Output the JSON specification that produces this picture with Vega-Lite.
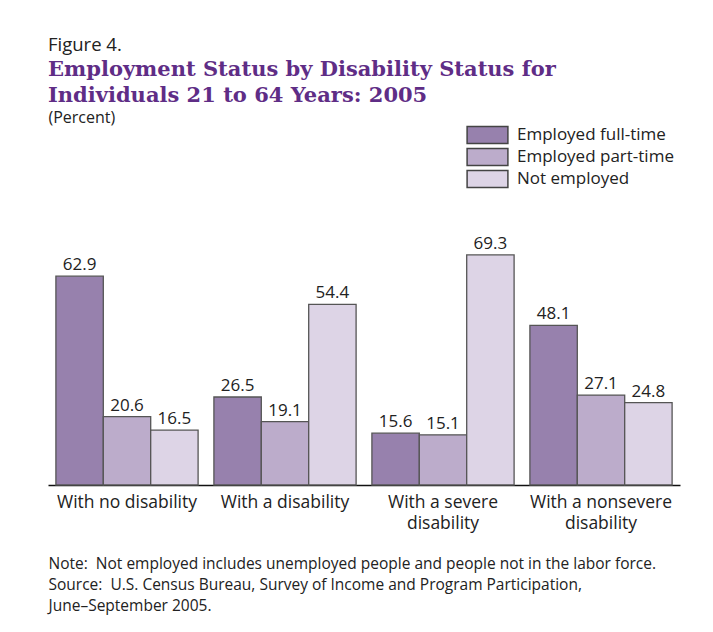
{
  "$schema": "https://vega.github.io/schema/vega-lite/v6.json",
  "width": 632,
  "height": 265.6,
  "autosize": "none",
  "padding": {"left": 48, "top": 219.4, "right": 33, "bottom": 147},
  "background": "white",
  "config": {
    "view": {"stroke": null},
    "font": "Open Sans",
    "text": {"font": "Open Sans"}
  },
  "title": {
    "text": "Figure 4.",
    "subtitle": ["Employment Status by Disability Status for", "Individuals 21 to 64 Years: 2005"],
    "anchor": "start",
    "frame": "group",
    "orient": "top",
    "offset": 3,
    "font": "Open Sans",
    "fontSize": 18.5,
    "fontWeight": "normal",
    "color": "#222222",
    "subtitleFont": "DejaVu Serif",
    "subtitleFontSize": 21,
    "subtitleFontWeight": "bold",
    "subtitleColor": "#5f2d86",
    "subtitleLineHeight": 26,
    "subtitlePadding": 5
  },
  "data": {
    "values": [
      {"group": "With no disability", "status": "Employed full-time", "value": 62.9},
      {"group": "With no disability", "status": "Employed part-time", "value": 20.6},
      {"group": "With no disability", "status": "Not employed", "value": 16.5},
      {"group": "With a disability", "status": "Employed full-time", "value": 26.5},
      {"group": "With a disability", "status": "Employed part-time", "value": 19.1},
      {"group": "With a disability", "status": "Not employed", "value": 54.4},
      {"group": "With a severe disability", "status": "Employed full-time", "value": 15.6},
      {"group": "With a severe disability", "status": "Employed part-time", "value": 15.1},
      {"group": "With a severe disability", "status": "Not employed", "value": 69.3},
      {"group": "With a nonsevere disability", "status": "Employed full-time", "value": 48.1},
      {"group": "With a nonsevere disability", "status": "Employed part-time", "value": 27.1},
      {"group": "With a nonsevere disability", "status": "Not employed", "value": 24.8}
    ]
  },
  "encoding": {
    "x": {
      "field": "group",
      "type": "nominal",
      "sort": null,
      "scale": {"paddingInner": 0.1, "paddingOuter": 0.05},
      "axis": {
        "labelAngle": 0,
        "labelFont": "Open Sans",
        "labelFontSize": 17.5,
        "labelColor": "#222222",
        "labelPadding": 8,
        "labelLineHeight": 21,
        "labelExpr": "indexof(datum.label, 'severe') >= 0 ? [replace(datum.label, ' disability', ''), 'disability'] : datum.label",
        "ticks": false,
        "domainColor": "#111111",
        "domainWidth": 1.6,
        "grid": false,
        "title": ["Note:\u00a0 Not employed includes unemployed people and people not in the labor force.", "Source:\u00a0 U.S. Census Bureau, Survey of Income and Program Participation,", "June\u2013September 2005."],
        "titleFont": "Open Sans",
        "titleFontSize": 15.5,
        "titleFontWeight": "normal",
        "titleColor": "#222222",
        "titleAnchor": "start",
        "titleAlign": "left",
        "titleBaseline": "alphabetic",
        "titleX": 0,
        "titleY": 83,
        "titleLineHeight": 21
      }
    },
    "xOffset": {"field": "status", "type": "nominal", "sort": ["Employed full-time", "Employed part-time", "Not employed"]},
    "y": {
      "field": "value",
      "type": "quantitative",
      "scale": {"domain": [0, 80], "nice": false},
      "axis": {
        "domain": false,
        "ticks": false,
        "labels": false,
        "grid": false,
        "title": "(Percent)",
        "titleAngle": 0,
        "titleAlign": "left",
        "titleBaseline": "alphabetic",
        "titleX": 0,
        "titleY": -97,
        "titleFont": "Open Sans",
        "titleFontSize": 16,
        "titleFontWeight": "normal",
        "titleColor": "#222222"
      }
    }
  },
  "layer": [
    {
      "mark": {"type": "bar", "stroke": "#555555", "strokeWidth": 1.3},
      "encoding": {
        "color": {
          "field": "status",
          "type": "nominal",
          "scale": {
            "domain": ["Employed full-time", "Employed part-time", "Not employed"],
            "range": ["#9781ad", "#bcaccb", "#ddd4e6"]
          },
          "legend": {
            "title": null,
            "orient": "none",
            "legendX": 430,
            "legendY": -94,
            "padding": 0,
            "symbolType": "M-2.4,-1H2.4V1H-2.4Z",
            "symbolSize": 289,
            "symbolStrokeColor": "#444444",
            "symbolStrokeWidth": 1.5,
            "symbolOpacity": 1,
            "labelFont": "Open Sans",
            "labelFontSize": 17,
            "labelColor": "#222222",
            "labelOffset": 20,
            "rowPadding": -1
          }
        }
      }
    },
    {
      "mark": {"type": "text", "baseline": "bottom", "dy": -2, "font": "Open Sans", "fontSize": 17, "color": "#222222"},
      "encoding": {
        "text": {"field": "value", "type": "quantitative", "format": ".1f"}
      }
    }
  ]
}
